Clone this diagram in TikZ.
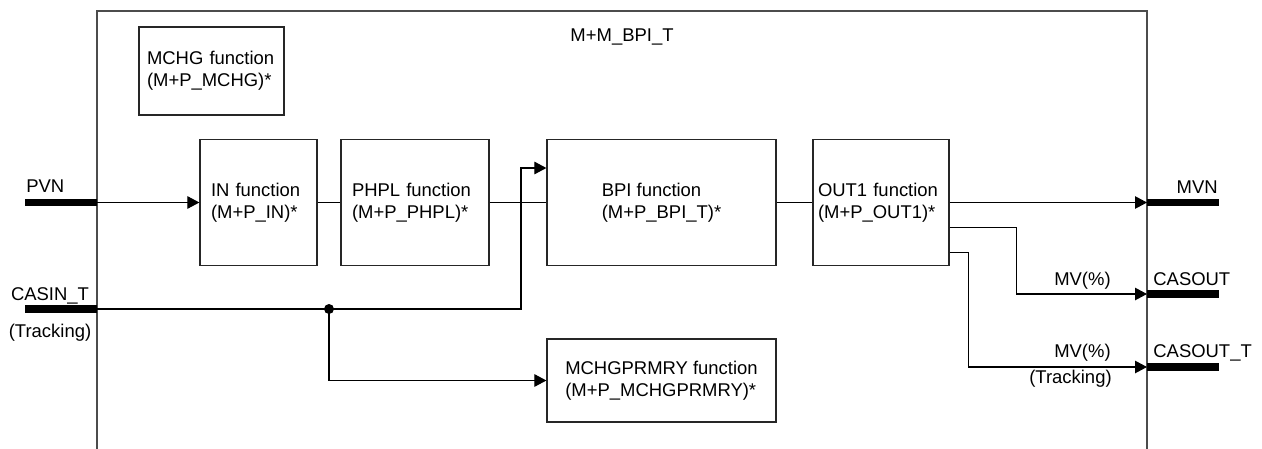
\documentclass[tikz,border=0pt]{standalone}
\usepackage{fontspec}
\setmainfont{Liberation Sans}
\usetikzlibrary{arrows.meta}
\begin{document}
\begin{tikzpicture}[x=0.2mm, y=-0.2mm,
    every node/.style={font=\fontsize{10.5}{12.5}\selectfont},
    fbox/.style={draw=black!85, line width=0.7pt, minimum height=25.2mm, align=left, inner ysep=0pt},
    lbl/.style={inner sep=0pt},
    frame/.style={draw=black!70, line width=1pt},
    stub/.style={line width=4pt},
    wire/.style={line width=0.6pt},
    arr/.style={wire, -{Triangle[length=2.4mm, width=2.5mm]}}]
    \useasboundingbox (0,0) rectangle (1262,448);
    \draw[frame] (97,470) -- (97,11) -- (1147,11) -- (1147,470);
    \node[lbl, anchor=base] (title) at (622,41.5) {M+M\_BPI\_T};
    % function blocks
    \node[fbox, minimum width=29mm, minimum height=17.6mm, text width=25.8mm, inner xsep=1.6mm] (mchg) at (211.5,71) {MCHG function\\(M+P\_MCHG)*};
    \node[fbox, minimum width=23.4mm, text width=19mm, inner xsep=2.2mm] (in) at (258.5,202.5) {IN function\\(M+P\_IN)*};
    \node[fbox, minimum width=29.6mm, text width=25.2mm, inner xsep=2.2mm] (phpl) at (415,202.5) {PHPL function\\(M+P\_PHPL)*};
    \node[fbox, minimum width=45.8mm] (bpi) at (661.5,202.5) {BPI function\\(M+P\_BPI\_T)*};
    \node[fbox, minimum width=27.2mm, text width=25.2mm, inner xsep=1mm] (out1) at (881,202.5) {OUT1 function\\(M+P\_OUT1)*};
    \node[fbox, minimum width=45.8mm, minimum height=16.6mm] (mchgp) at (661.5,380.5) {MCHGPRMRY function\\(M+P\_MCHGPRMRY)*};
    % ports
    \coordinate (pvn) at (97,202.5);
    \coordinate (casin) at (97,309);
    \coordinate (mvn) at (1147,202.5);
    \coordinate (casout) at (1147,294);
    \coordinate (casoutt) at (1147,367);
    \coordinate (jn) at (329,309);
    \draw[stub] (pvn) -- ++(-72,0);
    \draw[stub] (casin) -- ++(-72,0);
    \draw[stub] (mvn) -- ++(72,0);
    \draw[stub] (casout) -- ++(72,0);
    \draw[stub] (casoutt) -- ++(72,0);
    \node[lbl, anchor=base west] (pvnl) at (26,192.5) {PVN};
    \node[lbl, anchor=base] (casinl) at (50,300.5) {CASIN\_T};
    \node[lbl, anchor=base] (trk1) at (50,337) {(Tracking)};
    \node[lbl, anchor=base east] (mvnl) at (1218,193) {MVN};
    \node[lbl, anchor=base west] (casoutl) at (1153,285) {CASOUT};
    \node[lbl, anchor=base west] (casouttl) at (1153,357) {CASOUT\_T};
    \node[lbl, anchor=base east] (mv1) at (1111,285) {MV(\%)};
    \node[lbl, anchor=base east] (mv2) at (1111,357) {MV(\%)};
    \node[lbl, anchor=base east] (trk2) at (1112,383) {(Tracking)};
    % connections
    \draw[arr] (pvn) -- (in.west);
    \draw[wire] (in.east) -- (phpl.west);
    \draw[wire] (phpl.east) -- (bpi.west);
    \draw[wire] (bpi.east) -- (out1.west);
    \draw[arr] (out1.east) -- (mvn);
    \draw[arr] ([yshift=-5mm]out1.east) -- ++(67,0) |- (casout);
    \draw[arr] ([yshift=-10mm]out1.east) -- ++(19,0) |- (casoutt);
    \draw[arr] (casin) -- ++(424,0) |- ([yshift=6.9mm]bpi.west);
    \fill (jn) circle (1mm);
    \draw[arr] (jn) |- (mchgp.west);
\end{tikzpicture}
\end{document}
